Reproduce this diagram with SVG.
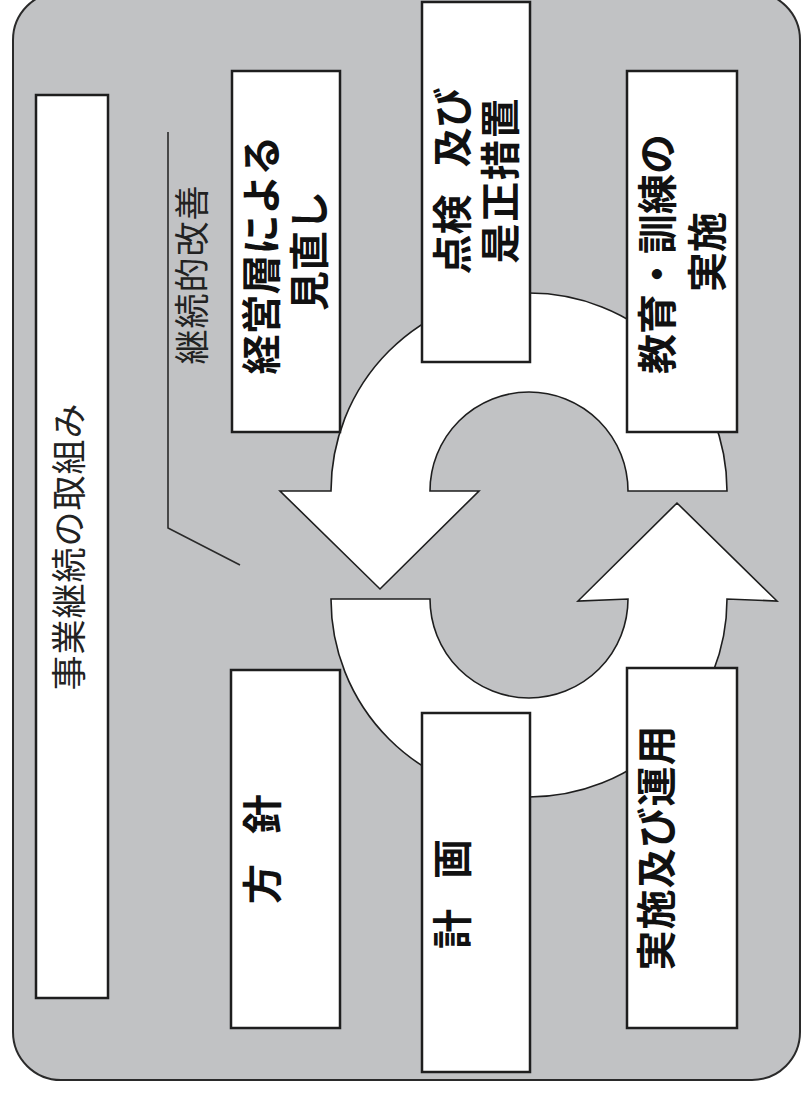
<svg xmlns="http://www.w3.org/2000/svg" width="802" height="1119" viewBox="0 0 802 1119">
  <style>
    .bg { fill: #c1c2c4; stroke: #2a2a2a; stroke-width: 2; }
    .box { fill: #ffffff; stroke: #1e1e1e; stroke-width: 2.5; }
    .ring { fill: #ffffff; stroke: #1e1e1e; stroke-width: 1.6; stroke-linejoin: miter; }
    .lbl { font-family: "Noto Sans CJK JP", "Noto Sans CJK SC", sans-serif; font-weight: 700; font-size: 40px; fill: #111; text-anchor: middle; dominant-baseline: central; }
    .thin { font-family: "Noto Sans CJK JP", "Noto Sans CJK SC", sans-serif; font-weight: 400; font-size: 35px; fill: #222; text-anchor: middle; dominant-baseline: central; }
    .note { fill: none; stroke: #2a2a2a; stroke-width: 1.6; }
  </style>
  <rect class="bg" x="13" y="-8" width="787" height="1088" rx="48" ry="48"/>

  <g id="connectors">
    <path class="ring" d="M727,491 A198,198 0 0 0 331,491 L280,491 L380,589 L479,491 L430,491 A99,99 0 0 1 628,491 Z"/>
    <path class="ring" d="M331,599 A198,198 0 0 0 727,599 L777,601 L677,503 L578,601 L628,599 A99,99 0 0 1 430,599 Z"/>
    <polyline class="note" points="168,132 168,528 240,565"/>
  </g>

  <g id="title">
    <rect class="box" x="36" y="95" width="72" height="903"/>
    <text class="thin" transform="translate(66,547) rotate(-90)" textLength="287" lengthAdjust="spacing">事業継続の取組み</text>
  </g>

  <g id="kaizen">
    <text class="thin" transform="translate(189,275) rotate(-90)" textLength="179" lengthAdjust="spacing">継続的改善</text>
  </g>

  <g id="review">
    <rect class="box" x="232" y="71" width="108" height="361"/>
    <text class="lbl" transform="translate(259,255) rotate(-90)">経営層による</text>
    <text class="lbl" transform="translate(307,251) rotate(-90)">見直し</text>
  </g>

  <g id="check">
    <rect class="box" x="422" y="2" width="108" height="360"/>
    <text class="lbl" transform="translate(450,181) rotate(-90)" style="word-spacing:18px">点検 及び</text>
    <text class="lbl" transform="translate(498,181) rotate(-90)" textLength="165" lengthAdjust="spacing">是正措置</text>
  </g>

  <g id="training">
    <rect class="box" x="627" y="71" width="110" height="361"/>
    <text class="lbl" transform="translate(655,254) rotate(-90)">教育・訓練の</text>
    <text class="lbl" transform="translate(705,252) rotate(-90)">実施</text>
  </g>

  <g id="policy">
    <rect class="box" x="231" y="670" width="109" height="358"/>
    <text class="lbl" transform="translate(260,849) rotate(-90)" textLength="110" lengthAdjust="spacing">方 針</text>
  </g>

  <g id="plan">
    <rect class="box" x="422" y="713" width="108" height="359"/>
    <text class="lbl" transform="translate(450,894) rotate(-90)" textLength="110" lengthAdjust="spacing">計 画</text>
  </g>

  <g id="operation">
    <rect class="box" x="627" y="668" width="110" height="360"/>
    <text class="lbl" transform="translate(654,848) rotate(-90)" textLength="245" lengthAdjust="spacing">実施及び運用</text>
  </g>
</svg>
